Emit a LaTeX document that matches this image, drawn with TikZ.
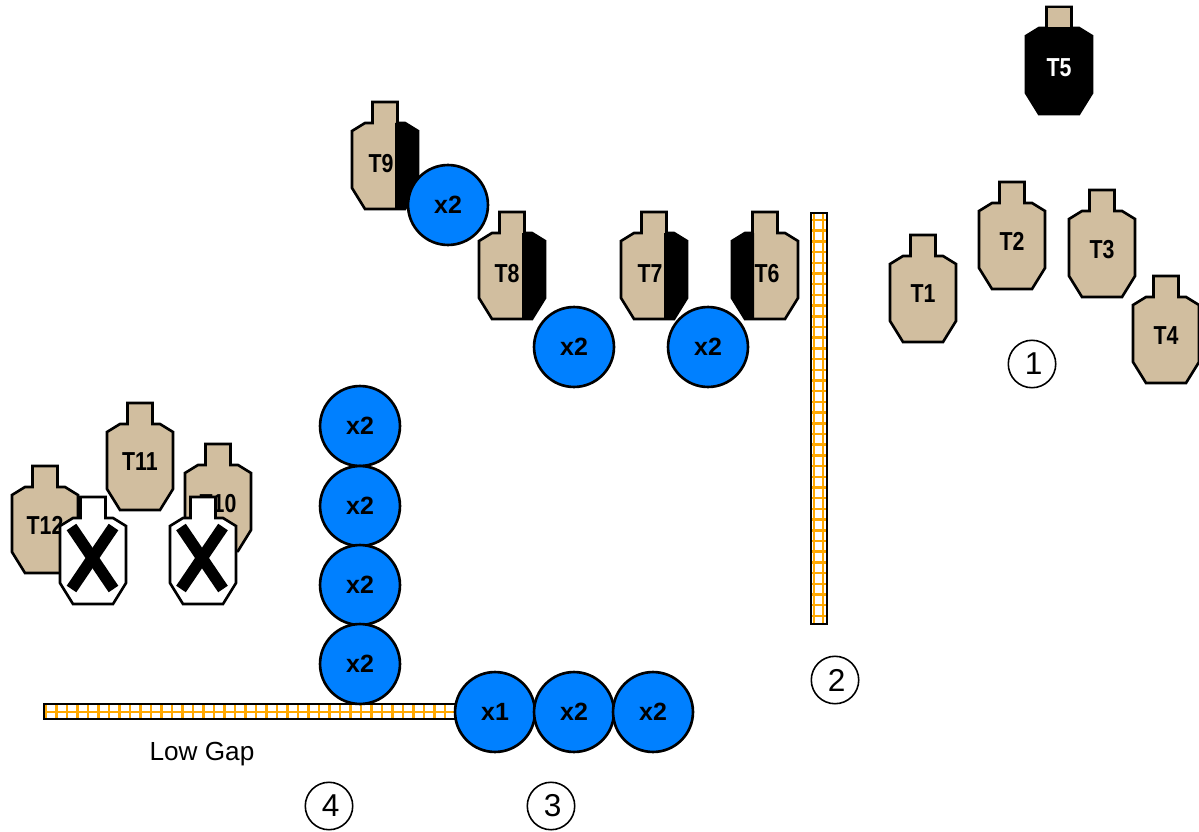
\documentclass[tikz,border=0pt]{standalone}
\usepackage{fontspec}
\setmainfont{Liberation Sans}
\definecolor{tan}{HTML}{D1BE9F}
\definecolor{disc}{HTML}{0080FF}
\definecolor{gap}{HTML}{FFA800}
\newcommand{\nudged}[1]{\kern1.8pt\raisebox{-0.8pt}{#1}}
\tikzset{
    outline/.style={draw=black, line width=1.5pt, line join=miter},
    disc style/.style={circle, outline, fill=disc, minimum size=45.5pt, inner sep=0pt, font=\fontsize{14.2}{16}\selectfont\bfseries},
    number style/.style={circle, draw=black, line width=0.9pt, fill=white, minimum size=27pt, inner sep=0pt, font=\fontsize{18}{20}\selectfont},
    target label/.style={font=\fontsize{14.8}{16}\selectfont\bfseries, xscale=0.82, inner sep=0pt},
    grid line/.style={gap, line width=1.4pt},
    pics/target/.style={code={
        \draw[outline, fill=#1] (-12.5,0) -- (12.5,0) -- (12.5,21) -- (20,21) -- (33,29) -- (33,86)
            -- (20,107) -- (-20,107) -- (-33,86) -- (-33,29) -- (-20,21) -- (-12.5,21) -- cycle;
    }},
    pics/right shade/.style={code={
        \fill[black] (10,21) -- (20,21) -- (33,29) -- (33,86) -- (20,107) -- (10,107) -- cycle;
    }},
    pics/left shade/.style={code={
        \fill[black] (-11,21) -- (-20,21) -- (-33,29) -- (-33,86) -- (-20,107) -- (-11,107) -- cycle;
    }},
}
\begin{document}
\begin{tikzpicture}[x=0.02cm, y=-0.02cm]
    \useasboundingbox (0,0) rectangle (1199,831);

    % plain targets
    \foreach \name/\x/\top/\lx/\ly in {T1/923/235/923/294, T2/1012/182/1012/241, T3/1102/190/1102/250,
        T4/1166/276/1166/336, T11/140/403/140/462, T10/218/444/218/504, T12/45/466/45/525} {
        \pic at (\x,\top) {target=tan};
        \node[target label] (\name) at (\lx,\ly) {\name};
    }

    % black target
    \pic at (1059,7) {target=black};
    \draw[outline, fill=tan] (1046.5,7) rectangle (1071.5,28);
    \node[target label, text=white] (T5) at (1059,68) {T5};

    % half shaded targets
    \foreach \name/\x/\top/\lx/\ly in {T9/385/102/381/164, T8/512/212/507/274, T7/654/212/650/274} {
        \pic at (\x,\top) {target=tan};
        \pic at (\x,\top) {right shade};
        \node[target label] (\name) at (\lx,\ly) {\name};
    }
    \pic at (765,212) {target=tan};
    \pic at (765,212) {left shade};
    \node[target label] (T6) at (767,274) {T6};

    % no shoots
    \foreach \x/\c in {93/92.5,203/202} {
        \pic at (\x,497) {target=white};
        \draw[line width=6.6pt] (\c-21,527) -- (\c+21,589);
        \draw[line width=6.6pt] (\c+21,527) -- (\c-21,589);
    }

    % walls
    \fill[white] (811,213) rectangle (827,624);
    \foreach \y in {220,230.7,...,620}
        \draw[grid line] (811,\y) -- (827,\y);
    \draw[grid line] (814,213) -- (814,624);
    \draw[grid line] (823,213) -- (823,624);
    \draw[outline] (811,213) rectangle (827,624);

    \fill[white] (44,704) rectangle (456,719);
    \foreach \x in {46,56.5,...,454}
        \draw[grid line] (\x,704) -- (\x,719);
    \draw[grid line] (44,712) -- (456,712);
    \draw[outline] (44,704) rectangle (456,719);

    % discs
    \foreach \name/\x/\y/\hits in {a/448/205/x2, b/574/347/x2, c/708/347/x2, d/360/426/x2, e/360/506/x2,
        f/360/585/x2, g/360/664/x2, h/495/712/x1, i/574/712/x2, j/653/712/x2}
        \node[disc style] (disc \name) at (\x,\y) {\raisebox{-0.9pt}{\hits}};

    \node[inner sep=0pt, font=\fontsize{14.9}{16}\selectfont] (low gap) at (202,754) {Low Gap};

    % positions
    \node[number style] (pos1) at (1032,364) {\nudged{1}};
    \node[number style] (pos2) at (835,680) {\nudged{2}};
    \node[number style] (pos3) at (551,806) {\nudged{3}};
    \node[number style] (pos4) at (329,806) {\nudged{4}};
\end{tikzpicture}
\end{document}
